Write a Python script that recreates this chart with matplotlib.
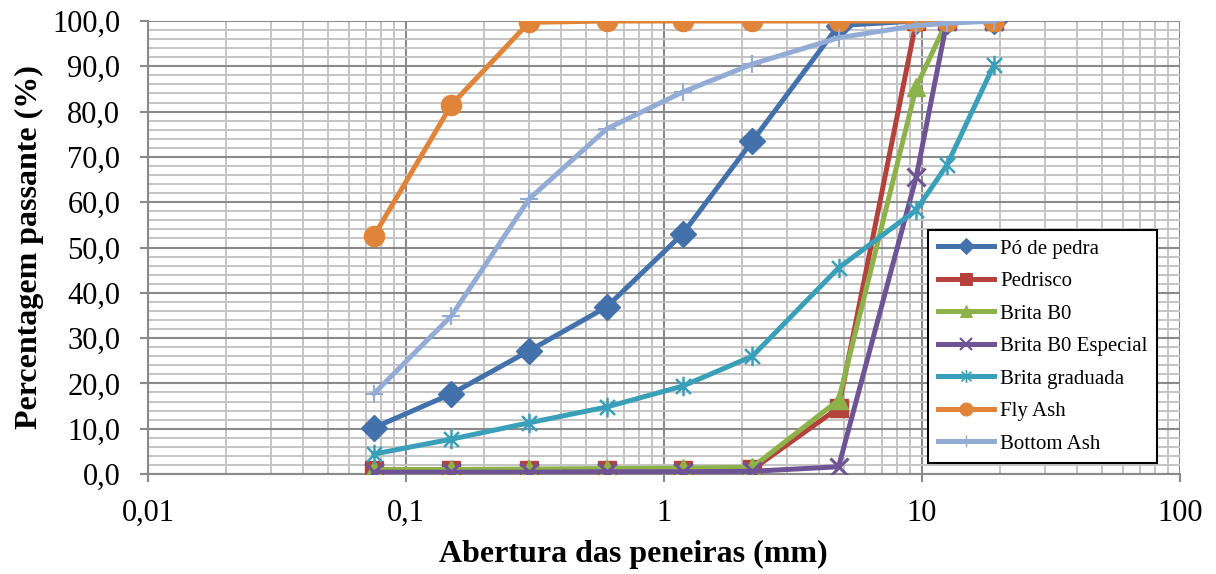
import matplotlib.pyplot as plt
import numpy as np
from matplotlib.lines import Line2D
from matplotlib.path import Path
from matplotlib.ticker import FixedLocator, FuncFormatter, MultipleLocator

# ----- styles -----
plt.rcParams["font.family"] = ["Liberation Serif", "DejaVu Serif"]
tick_font_size = 22
label_font_size = 23
legend_font_size = 15

# ----- data -----
sieves = [0.075, 0.15, 0.3, 0.6, 1.18, 2.2, 4.75, 9.5, 12.5, 19]

po_de_pedra = [10.2, 17.7, 27.2, 36.9, 53.0, 73.5, 99.0, 100.0, 100.0, 100.0]
pedrisco = [0.8, 0.8, 0.8, 0.9, 0.9, 1.0, 14.6, 100.0, 100.0, 100.0]
brita_b0 = [1.0, 1.0, 1.1, 1.2, 1.3, 1.5, 16.3, 85.4, 100.0, 100.0]
brita_b0_esp = [0.4, 0.4, 0.4, 0.5, 0.5, 0.6, 1.6, 65.6, 100.0, 100.0]
brita_grad = [4.4, 7.7, 11.3, 14.8, 19.4, 26.0, 45.5, 58.3, 68.2, 90.3]
fly_ash = [52.5, 81.5, 99.7, 100.0, 100.0, 100.0, 100.0, 100.0, 100.0, 100.0]
bottom_ash = [17.7, 34.9, 60.7, 76.2, 84.3, 90.5, 96.3, 99.0, 99.5, 100.0]

labels = ["Pó de pedra", "Pedrisco", "Brita B0", "Brita B0 Especial",
          "Brita graduada", "Fly Ash", "Bottom Ash"]
colors = ["#4371AB", "#B5413D", "#8DB24A", "#6F5495",
          "#3A9FB9", "#E0843A", "#93ACD5"]

# excel-like star marker: X plus a vertical bar
star = Path([(-1, -1), (1, 1), (-1, 1), (1, -1), (0, -1.3), (0, 1.3)],
            [Path.MOVETO, Path.LINETO, Path.MOVETO, Path.LINETO,
             Path.MOVETO, Path.LINETO])
markers = ["D", "s", "^", "x", star, "o", "+"]
msizes = [13, 13, 13, 13, 14, 14.5, 13]
mews = [1, 1, 1, 2.2, 1.8, 1, 1.5]

series = [po_de_pedra, pedrisco, brita_b0, brita_b0_esp,
          brita_grad, fly_ash, bottom_ash]

# ----- figure -----
fig = plt.figure(figsize=(12.16, 5.74), dpi=100)
ax = fig.add_axes([0.1217, 0.1742, 0.8487, 0.7892])

for y, c, m, ms, mew in zip(series, colors, markers, msizes, mews):
    ax.plot(sieves, y, color=c, lw=3.6, marker=m, markersize=ms,
            markeredgecolor=c, markerfacecolor=c, markeredgewidth=mew,
            solid_joinstyle='round', zorder=3)

ax.set_xscale('log')
ax.set_xlim(0.01, 100)
ax.set_ylim(0, 100)

ax.yaxis.set_major_locator(MultipleLocator(10))
ax.yaxis.set_minor_locator(MultipleLocator(2))
ax.yaxis.set_major_formatter(FuncFormatter(lambda v, p: f"{v:.1f}".replace('.', ',')))
ax.xaxis.set_major_locator(FixedLocator([0.01, 0.1, 1, 10, 100]))
ax.xaxis.set_major_formatter(FuncFormatter(lambda v, p: f"{v:g}".replace('.', ',')))

ax.grid(True, which='major', color='#8a8a8a', lw=1.5, zorder=0)
ax.grid(True, which='minor', color='#c4c4c4', lw=1.4, zorder=0)
ax.set_axisbelow(True)

for s in ['top', 'right']:
    ax.spines[s].set_visible(False)
for s in ['left', 'bottom']:
    ax.spines[s].set_color('#8a8a8a')
    ax.spines[s].set_linewidth(1.5)

ax.tick_params(which='major', length=6, width=1.5, color='#8a8a8a',
               labelsize=tick_font_size)
ax.tick_params(which='minor', length=0)
ax.tick_params(axis='y', pad=14)
ax.tick_params(axis='x', pad=12)

ax.set_xlabel('Abertura das peneiras (mm)', fontsize=label_font_size,
              fontweight='bold', labelpad=8)
ax.xaxis.set_label_coords(0.47, -0.145)
ax.set_ylabel('Percentagem passante (%)', fontsize=label_font_size,
              fontweight='bold', labelpad=6)

handles = [Line2D([], [], color=c, lw=3.6, marker=m, markersize=ms * 0.65,
                  markeredgecolor=c, markerfacecolor=c, markeredgewidth=mew * 0.7)
           for c, m, ms, mew in zip(colors, markers, msizes, mews)]
leg = ax.legend(handles, labels, loc='lower left', bbox_to_anchor=(0.756, 0.024),
                fontsize=legend_font_size, handlelength=2.7, handletextpad=0.3,
                labelspacing=0.62, borderpad=0.45, borderaxespad=0,
                fancybox=False, framealpha=1, edgecolor='black')
leg.get_frame().set_linewidth(1.5)

fig.savefig('out.png', dpi=100)
